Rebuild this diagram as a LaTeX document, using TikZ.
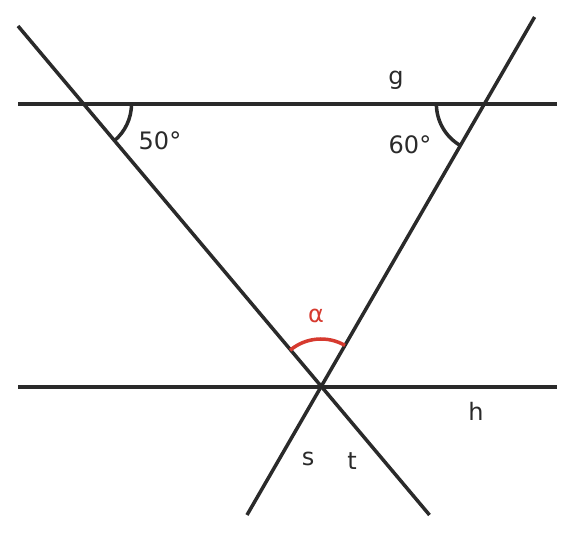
\documentclass[tikz,border=0pt]{standalone}
\usepackage{fontspec}
\setmainfont{DejaVu Sans}
\definecolor{ink}{HTML}{2A2A2A}
\definecolor{redarc}{HTML}{D63A2F}
\begin{document}
\begin{tikzpicture}[x=1pt,y=1pt,
  line/.style={draw=ink,line width=3.5pt},
  arcline/.style={draw=ink,line width=3.5pt},
  alphaarc/.style={draw=redarc,line width=3.5pt},
  lbl/.style={text=ink,inner sep=0pt,font=\fontsize{24}{28}\selectfont},
  albl/.style={text=redarc,inner sep=0pt,font=\fontsize{24}{28}\selectfont}]
\useasboundingbox (0,0) rectangle (576,534);
% key points
\coordinate (O) at (321,147);
\coordinate (A) at (83.5,430);
\coordinate (B) at (484.4,430);
\coordinate (g1) at (18,430);
\coordinate (g2) at (557,430);
\coordinate (h1) at (18,147);
\coordinate (h2) at (557,147);
\coordinate (s1) at (18,508);
\coordinate (s2) at (429.5,19);
\coordinate (t1) at (534.6,517);
\coordinate (t2) at (247,19);
% lines
\draw[line] (g1) -- (g2);
\draw[line] (h1) -- (h2);
\draw[line] (s1) -- (s2);
\draw[line] (t1) -- (t2);
% arcs
\draw[arcline] ([shift={(0:48)}]A) arc[start angle=0,end angle=-50,radius=48];
\draw[arcline] ([shift={(180:48)}]B) arc[start angle=180,end angle=240,radius=48];
\draw[alphaarc] ([shift={(60:48)}]O) arc[start angle=60,end angle=130,radius=48];
% labels
\node[lbl] (l50) at (160,393) {50°};
\node[lbl] (l60) at (410,389) {60°};
\node[lbl] (lg) at (396,454) {g};
\node[lbl] (lh) at (476,123) {h};
\node[lbl] (ls) at (308,75) {s};
\node[lbl] (lt) at (352,73) {t};
\node[albl] (la) at (316,218) {α};
\end{tikzpicture}
\end{document}
